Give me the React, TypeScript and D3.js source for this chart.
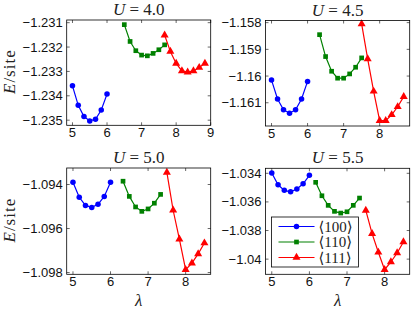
import { useEffect, useRef } from "react";
import * as d3 from "d3";

// lattice spacing values (lambda)
const lam100 = [5, 5.167, 5.333, 5.5, 5.667, 5.833, 6];

const lam110_40 = [6.5, 6.667, 6.833, 7.0, 7.167, 7.333, 7.5, 7.667];
const lam111_40 = [7.667, 7.833, 8.0, 8.167, 8.333, 8.5, 8.667, 8.833];
const e100_40 = [-1.23359, -1.23439, -1.23485, -1.23503, -1.23496, -1.23458, -1.23393];
const e110_40 = [-1.23108, -1.23177, -1.23215, -1.23233, -1.23236, -1.23226, -1.23211, -1.23191];
const e111_40 = [-1.23151, -1.23218, -1.23267, -1.23298, -1.23303, -1.23298, -1.23284, -1.23267];

const lam110_45 = [6.333, 6.5, 6.667, 6.833, 7.0, 7.167, 7.333, 7.5];
const lam111_45 = [7.5, 7.667, 7.833, 8.0, 8.167, 8.333, 8.5, 8.667];
const e100_45 = [-1.16015, -1.16086, -1.16126, -1.16139, -1.16126, -1.16086, -1.1602];
const e110_45 = [-1.15845, -1.15927, -1.15982, -1.16008, -1.16008, -1.15992, -1.15967, -1.15932];
const e111_45 = [-1.15805, -1.15936, -1.16057, -1.16167, -1.16167, -1.16145, -1.16115, -1.16077];

const lam110_50 = [6.333, 6.5, 6.667, 6.833, 7.0, 7.167, 7.333];
const lam111_50 = [7.5, 7.667, 7.833, 8.0, 8.167, 8.333, 8.5];
const e100_50 = [-1.0939, -1.09458, -1.09495, -1.09504, -1.0949, -1.09454, -1.0939];
const e110_50 = [-1.09385, -1.09454, -1.09502, -1.09522, -1.09511, -1.09485, -1.09445];
const e111_50 = [-1.09345, -1.09517, -1.09648, -1.09787, -1.09757, -1.09715, -1.09666];

const lam110_55 = [6.167, 6.333, 6.5, 6.667, 6.833, 7.0, 7.167, 7.333];
const lam111_55 = [7.5, 7.667, 7.833, 8.0, 8.167, 8.333, 8.5];
const e100_55 = [-1.03398, -1.0348, -1.03519, -1.03529, -1.0351, -1.03473, -1.03414];
const e110_55 = [-1.03463, -1.03557, -1.03624, -1.03666, -1.03678, -1.03669, -1.03624, -1.03573];
const e111_55 = [-1.03659, -1.03822, -1.03952, -1.04074, -1.0402, -1.03957, -1.0388];

const uLabels = ["4.0", "4.5", "5.0", "5.5"];
const xTicks40 = [5, 6, 7, 8, 9];
const xTicks = [5, 6, 7, 8];
const yTicks40 = [-1.235, -1.234, -1.233, -1.232, -1.231];
const yTicks45 = [-1.161, -1.16, -1.159, -1.158];
const yTicks50 = [-1.098, -1.096, -1.094];
const yTicks55 = [-1.04, -1.038, -1.036, -1.034];
const legendLabels = ["\u27E8100\u27E9", "\u27E8110\u27E9", "\u27E8111\u27E9"];

const COLORS = ["#0000ff", "#008000", "#ff0000"];
const SERIF = "'Liberation Serif', 'DejaVu Serif', serif";
const SANS = "'Liberation Sans', Arial, sans-serif";

const panels = [
  {
    u: uLabels[0], box: [66.7, 210.7, 20, 125.3], xDom: [4.833, 9.0], yDom: [-1.23521, -1.23089],
    xt: xTicks40, yt: yTicks40, series: [[lam100, e100_40], [lam110_40, e110_40], [lam111_40, e111_40]],
    ylabel: true, xlabel: false,
  },
  {
    u: uLabels[1], box: [265.5, 409.7, 20.5, 126], xDom: [4.833, 8.833], yDom: [-1.16187, -1.15792],
    xt: xTicks, yt: yTicks45, series: [[lam100, e100_45], [lam110_45, e110_45], [lam111_45, e111_45]],
    ylabel: false, xlabel: false,
  },
  {
    u: uLabels[2], box: [66.7, 210.7, 168, 274.3], xDom: [4.833, 8.667], yDom: [-1.09808, -1.09325],
    xt: xTicks, yt: yTicks50, series: [[lam100, e100_50], [lam110_50, e110_50], [lam111_50, e111_50]],
    ylabel: true, xlabel: true,
  },
  {
    u: uLabels[3], box: [265.5, 409.7, 168.3, 274.3], xDom: [4.833, 8.667], yDom: [-1.04106, -1.03365],
    xt: xTicks, yt: yTicks55, series: [[lam100, e100_55], [lam110_55, e110_55], [lam111_55, e111_55]],
    ylabel: false, xlabel: true, legend: true,
  },
];

const symbols = [d3.symbol(d3.symbolCircle, 24), d3.symbol(d3.symbolSquare, 22), d3.symbol(d3.symbolTriangle, 28)];

const fmtY = (v: number) => String(+v.toFixed(3)).replace("-", "\u2212");

export default function App() {
  const svgRef = useRef<SVGSVGElement>(null);

  useEffect(() => {
    document.body.style.margin = "0";
    const svg = d3.select(svgRef.current);
    svg.selectAll("*").remove();

    panels.forEach((p) => {
      const [x0, x1, y0, y1] = p.box;
      const x = d3.scaleLinear().domain(p.xDom).range([x0, x1]);
      const y = d3.scaleLinear().domain(p.yDom).range([y1, y0]);
      const g = svg.append("g");

      // ticks (inward, mirrored)
      const tl = 3;
      p.xt.forEach((t) => {
        g.append("line").attr("x1", x(t)).attr("x2", x(t)).attr("y1", y1).attr("y2", y1 - tl).attr("stroke", "#000").attr("stroke-width", 0.6);
        g.append("line").attr("x1", x(t)).attr("x2", x(t)).attr("y1", y0).attr("y2", y0 + tl).attr("stroke", "#000").attr("stroke-width", 0.6);
        g.append("text").attr("x", x(t)).attr("y", y1 + 12).attr("text-anchor", "middle")
          .attr("font-family", SANS).attr("font-size", 13).attr("fill", "#111").text(String(t));
      });
      p.yt.forEach((t) => {
        g.append("line").attr("x1", x0).attr("x2", x0 + tl).attr("y1", y(t)).attr("y2", y(t)).attr("stroke", "#000").attr("stroke-width", 0.6);
        g.append("line").attr("x1", x1).attr("x2", x1 - tl).attr("y1", y(t)).attr("y2", y(t)).attr("stroke", "#000").attr("stroke-width", 0.6);
        g.append("text").attr("x", x0 - 4).attr("y", y(t)).attr("dy", "0.35em").attr("text-anchor", "end")
          .attr("font-family", SANS).attr("font-size", 13).attr("fill", "#111").text(fmtY(t));
      });

      const line = d3.line<[number, number]>().x((d) => x(d[0])).y((d) => y(d[1]));
      p.series.forEach(([lx, ey], i) => {
        const pts = lx.map((v, k) => [v, ey[k]] as [number, number]);
        g.append("path").attr("d", line(pts)).attr("fill", "none").attr("stroke", COLORS[i]).attr("stroke-width", 1.2);
        g.selectAll(null).data(pts).join("path")
          .attr("transform", (d) => `translate(${x(d[0])},${y(d[1])})`)
          .attr("d", symbols[i]()).attr("fill", COLORS[i]);
      });

      g.append("rect").attr("x", x0).attr("y", y0).attr("width", x1 - x0).attr("height", y1 - y0)
        .attr("fill", "none").attr("stroke", "#000").attr("stroke-width", 0.8);

      const title = g.append("text").attr("x", (x0 + x1) / 2).attr("y", y0 - 5).attr("text-anchor", "middle")
        .attr("font-family", SERIF).attr("font-size", 17).attr("fill", "#222");
      title.append("tspan").attr("font-style", "italic").text("U");
      title.append("tspan").text(` = ${p.u}`);

      if (p.ylabel) {
        const yl = g.append("text")
          .attr("transform", `translate(15,${(y0 + y1) / 2 - 1}) rotate(-90)`)
          .attr("text-anchor", "middle").attr("font-family", SERIF).attr("font-size", 17)
          .attr("letter-spacing", 1).attr("fill", "#222");
        yl.append("tspan").attr("font-style", "italic").text("E");
        yl.append("tspan").text("/site");
      }
      if (p.xlabel) {
        g.append("text").attr("x", (x0 + x1) / 2).attr("y", y1 + 32).attr("text-anchor", "middle")
          .attr("font-family", SERIF).attr("font-style", "italic").attr("font-size", 17).attr("fill", "#222").text("\u03BB");
      }

      if (p.legend) {
        const lx0 = 271.5, ly0 = 217, lw = 87, lh = 50;
        const lg = g.append("g");
        lg.append("rect").attr("x", lx0).attr("y", ly0).attr("width", lw).attr("height", lh)
          .attr("fill", "#fff").attr("stroke", "#000").attr("stroke-width", 0.8);
        legendLabels.forEach((lab, i) => {
          const ry = ly0 + 9.5 + i * 15.5;
          lg.append("line").attr("x1", lx0 + 7).attr("x2", lx0 + 43).attr("y1", ry).attr("y2", ry)
            .attr("stroke", COLORS[i]).attr("stroke-width", 1.2);
          lg.append("path").attr("transform", `translate(${lx0 + 25},${ry})`).attr("d", symbols[i]()).attr("fill", COLORS[i]);
          lg.append("text").attr("x", lx0 + 47).attr("y", ry).attr("dy", "0.35em")
            .attr("font-family", SERIF).attr("font-size", 15).attr("fill", "#222").text(lab);
        });
      }
    });
  }, []);

  return <svg ref={svgRef} width={415} height={312} style={{ display: "block", background: "#fff" }} />;
}
